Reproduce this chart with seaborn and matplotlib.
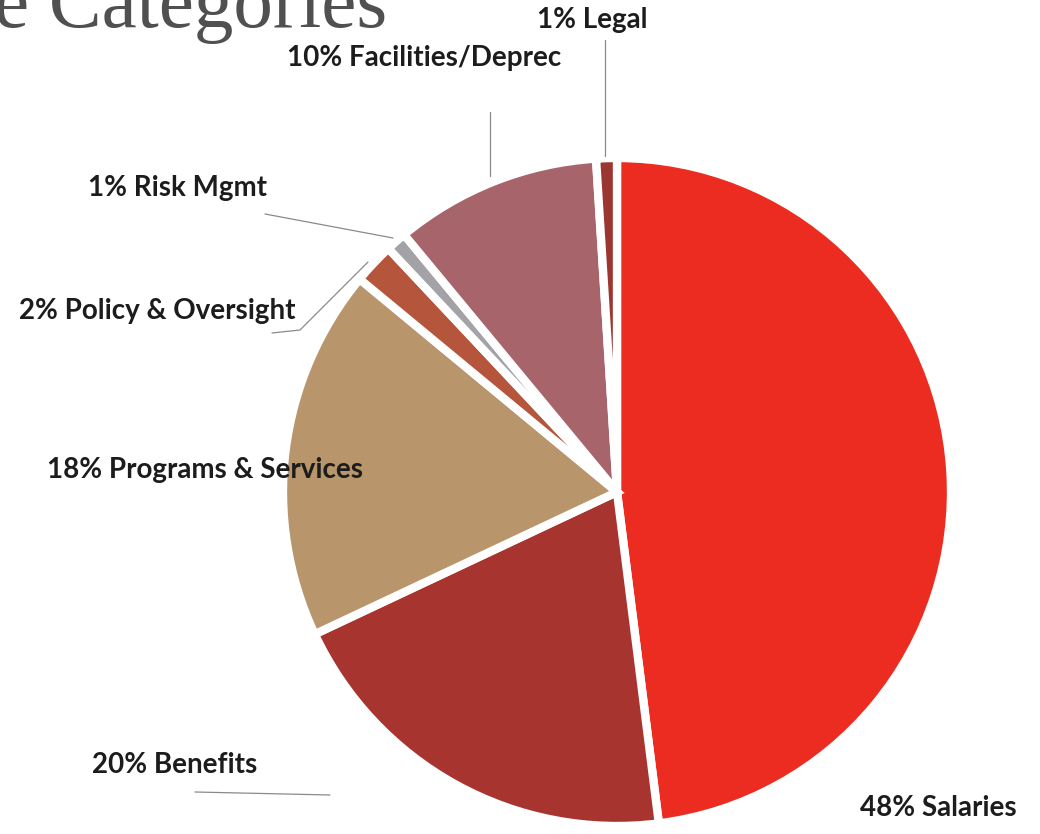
import matplotlib
matplotlib.use("Agg")
import matplotlib.pyplot as plt
import seaborn as sns

# Expense categories (share of total, %)
categories = ["Salaries", "Benefits", "Programs & Services", "Policy & Oversight",
              "Risk Mgmt", "Facilities/Deprec", "Legal"]
shares = [48, 20, 18, 2, 1, 10, 1]
colors = ["#EC2C20", "#A8342F", "#B8956B", "#B5553C", "#A3A2A6", "#A8646B", "#9B3630"]

sns.set_theme(style="white")
plt.rcParams["font.family"] = ["Lato", "DejaVu Sans"]

W, H = 1040, 834
fig = plt.figure(figsize=(W / 100, H / 100), dpi=100)
ax = fig.add_axes([0, 0, 1, 1])

# Pixel-style coordinates: y grows downward, so the pie is drawn
# counter-clockwise in data space to read clockwise on the page.
cx, cy, r = 617, 492, 334
ax.pie(
    shares, colors=colors, startangle=-90, counterclock=True,
    center=(cx, cy), radius=r, explode=[0.014] * len(shares),
    wedgeprops=dict(edgecolor="white", linewidth=6),
    frame=True,
)
ax.set_xlim(0, W)
ax.set_ylim(H, 0)
ax.set_aspect("equal")
ax.axis("off")

lbl = dict(fontsize=20, fontweight="bold", color="#1c1c1c", ha="center", va="center")
line = dict(color="#8a8a8a", linewidth=0.9)

def label(i, x, y):
    ax.text(x, y, f"{shares[i]}% {categories[i]}", **lbl)

label(6, 592, 20)
ax.plot([605, 605], [40, 156], **line)
label(5, 424, 58)
ax.plot([490, 490], [112, 176], **line)
label(4, 178, 188)
ax.plot([265, 393], [214, 238], **line)
label(3, 157, 311)
ax.plot([272, 300, 368], [333, 330, 262], **line)
label(2, 205, 470)
label(1, 175, 765)
ax.plot([195, 330], [792, 795], **line)
label(0, 938, 808)

# Slide title, clipped by the top edge
ax.text(-6, 27, "e Categories", fontsize=57, color="#505050",
        family=["Liberation Serif", "DejaVu Serif"], ha="left", va="baseline")

fig.savefig("out.png", dpi=100, facecolor="white")
